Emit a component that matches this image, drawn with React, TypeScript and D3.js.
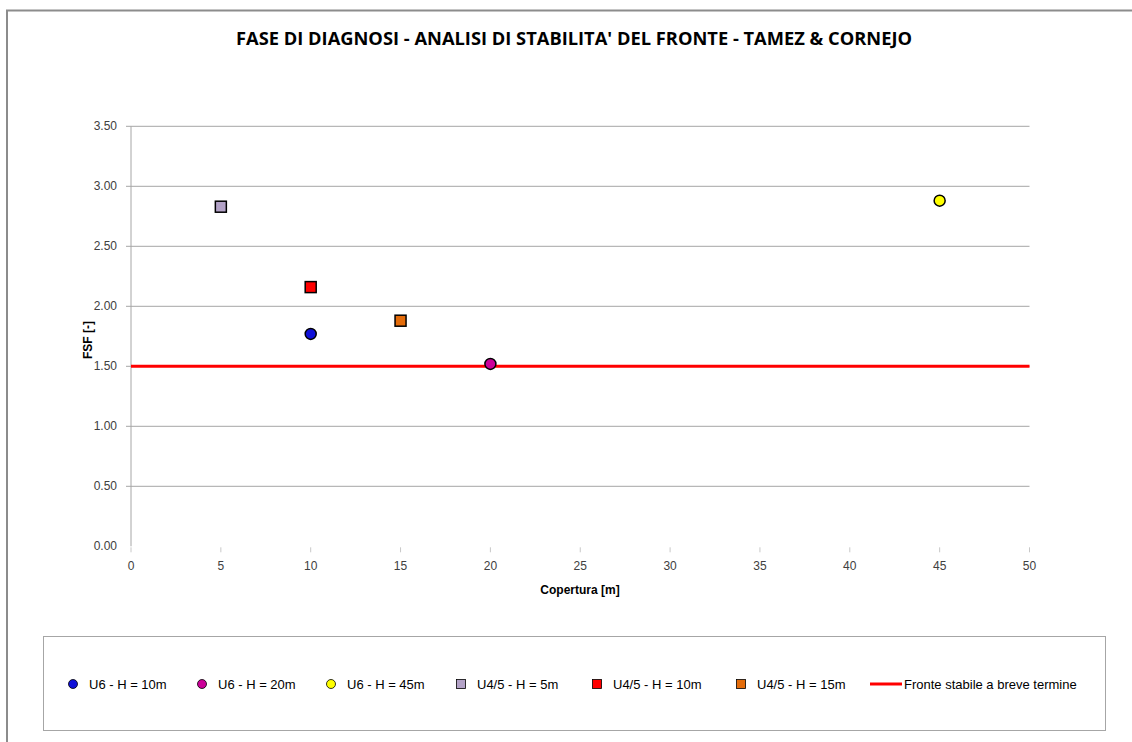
import React from "react";
import * as d3 from "d3";

const title = "FASE DI DIAGNOSI - ANALISI DI STABILITA' DEL FRONTE - TAMEZ & CORNEJO";
const xLabel = "Copertura [m]";
const yLabel = "FSF [-]";

const xTicks = [0, 5, 10, 15, 20, 25, 30, 35, 40, 45, 50];
const yTicks = [0, 0.5, 1, 1.5, 2, 2.5, 3, 3.5];

const seriesNames = [
  "U6 - H = 10m",
  "U6 - H = 20m",
  "U6 - H = 45m",
  "U4/5 - H = 5m",
  "U4/5 - H = 10m",
  "U4/5 - H = 15m",
];
const seriesX = [10, 20, 45, 5, 10, 15];
const seriesY = [1.77, 1.52, 2.88, 2.83, 2.16, 1.88];
const seriesShape = ["circle", "circle", "circle", "square", "square", "square"];
const seriesColor = ["#1010d8", "#cc0099", "#ffff00", "#b3a2c7", "#ff0000", "#e46c0a"];

const stableName = "Fronte stabile a breve termine";
const stableValue = 1.5;

const legendXs = [73, 202, 331, 461, 597, 741];

export default function App() {
  const x = d3.scaleLinear().domain([0, 50]).range([131, 1029.5]);
  const y = d3.scaleLinear().domain([0, 3.5]).range([546.3, 126.3]);
  const tickFont = "'Liberation Sans', Arial, sans-serif";
  const grid = "#a6a6a6";

  return (
    <svg
      width={1132}
      height={742}
      style={{ position: "absolute", left: 0, top: 0, display: "block", background: "#fff" }}
    >
      <rect x={0} y={0} width={1132} height={742} fill="#fff" />
      {/* outer frame */}
      <line x1={6} x2={1132} y1={10.5} y2={10.5} stroke="#8c8c8c" strokeWidth={2} />
      <line x1={7} x2={7} y1={10} y2={742} stroke="#8c8c8c" strokeWidth={2} />

      <text
        x={574}
        y={45}
        textAnchor="middle"
        fontFamily="'Open Sans', sans-serif"
        fontWeight="bold"
        fontSize={17}
        textLength={676}
        lengthAdjust="spacingAndGlyphs"
        fill="#000"
      >
        {title}
      </text>

      {/* gridlines */}
      {yTicks.filter((t) => t > 0).map((t) => (
        <line key={"g" + t} x1={126} x2={x(50)} y1={y(t)} y2={y(t)} stroke={grid} strokeWidth={1} />
      ))}
      <line x1={x(0)} x2={x(0)} y1={y(3.5)} y2={y(0)} stroke={grid} strokeWidth={1} />
      {xTicks.map((t) => (
        <line key={"xt" + t} x1={x(t)} x2={x(t)} y1={y(0) + 1} y2={y(0) + 6} stroke="#c8c8c8" strokeWidth={1} />
      ))}

      {/* tick labels */}
      {yTicks.map((t) => (
        <text
          key={"yl" + t}
          x={117}
          y={y(t) + 4}
          textAnchor="end"
          fontFamily={tickFont}
          fontSize={12}
          fill="#404040"
        >
          {t.toFixed(2)}
        </text>
      ))}
      {xTicks.map((t) => (
        <text
          key={"xl" + t}
          x={x(t)}
          y={570}
          textAnchor="middle"
          fontFamily={tickFont}
          fontSize={12}
          fill="#404040"
        >
          {t}
        </text>
      ))}

      <text x={580} y={594} textAnchor="middle" fontFamily={tickFont} fontWeight="bold" fontSize={12} fill="#000">
        {xLabel}
      </text>
      <text
        transform={`translate(92,${340}) rotate(-90)`}
        textAnchor="middle"
        fontFamily={tickFont}
        fontWeight="bold"
        fontSize={12}
        fill="#000"
      >
        {yLabel}
      </text>

      {/* stable line */}
      <line x1={x(0)} x2={x(50)} y1={y(stableValue)} y2={y(stableValue)} stroke="#ff0000" strokeWidth={3} />

      {/* points */}
      {seriesX.map((xv, i) =>
        seriesShape[i] === "circle" ? (
          <circle key={"p" + i} cx={x(xv)} cy={y(seriesY[i])} r={5.5} fill={seriesColor[i]} stroke="#000" strokeWidth={1.5} />
        ) : (
          <rect
            key={"p" + i}
            x={x(xv) - 5.5}
            y={y(seriesY[i]) - 5.5}
            width={11}
            height={11}
            fill={seriesColor[i]}
            stroke="#000"
            strokeWidth={1.5}
          />
        )
      )}

      {/* legend */}
      <rect x={43.5} y={636.5} width={1062} height={94} fill="#fff" stroke="#a6a6a6" strokeWidth={1} />
      {seriesNames.map((name, i) => {
        const cx = legendXs[i];
        const cy = 684;
        return (
          <g key={"lg" + i}>
            {seriesShape[i] === "circle" ? (
              <circle cx={cx} cy={cy} r={4.5} fill={seriesColor[i]} stroke="#000" strokeWidth={0.8} />
            ) : (
              <rect x={cx - 4.5} y={cy - 4.5} width={9} height={9} fill={seriesColor[i]} stroke="#000" strokeWidth={0.8} />
            )}
            <text x={cx + 16} y={cy + 4.5} fontFamily={tickFont} fontSize={13} fill="#000">
              {name}
            </text>
          </g>
        );
      })}
      <line x1={870} x2={902} y1={684} y2={684} stroke="#ff0000" strokeWidth={3} />
      <text x={904} y={688.5} fontFamily={tickFont} fontSize={13} fill="#000">
        {stableName}
      </text>
    </svg>
  );
}
